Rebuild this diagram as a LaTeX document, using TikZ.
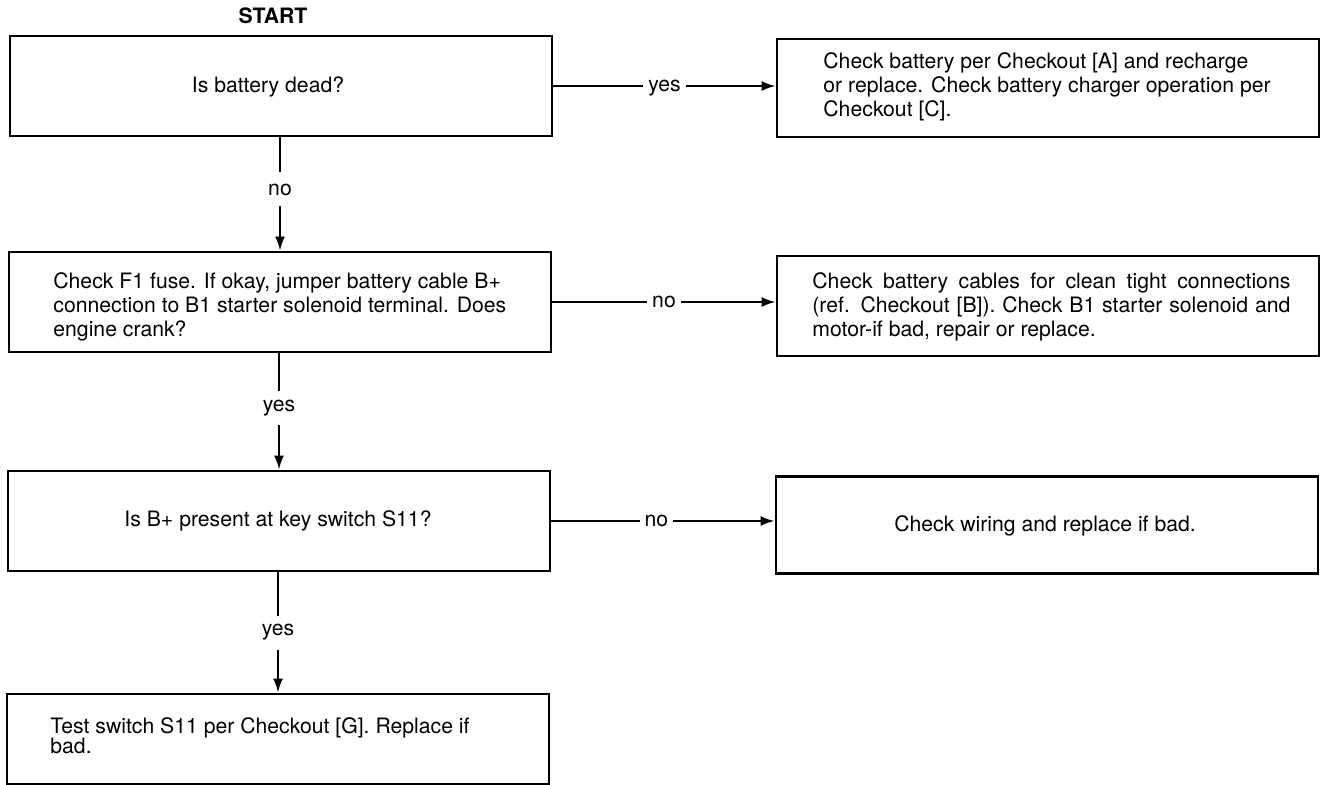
\documentclass[tikz,border=0pt]{standalone}
\usepackage{fontspec}
\setmainfont{TeX Gyre Heros}
\usetikzlibrary{arrows.meta}
\tikzstyle{box}=[rectangle,draw=black,line width=1.4pt,inner sep=0pt,minimum width=271pt,minimum height=50pt]
\tikzstyle{txt}=[align=left,inner sep=0pt]
\tikzstyle{arr}=[-{Latex[length=7pt,width=5pt]},line width=1.1pt]
\tikzstyle{vlab}=[fill=white,inner xsep=2pt,inner ysep=0pt,minimum height=17pt]
\tikzstyle{hlab}=[fill=white,inner xsep=2.5pt,inner ysep=1pt,text height=1ex,text depth=0pt]
\newcommand{\jline}[1]{\makebox[239pt][s]{#1}}

\begin{document}
\begin{tikzpicture}[x=0.5pt,y=-0.5pt,font=\fontsize{10.6}{12}\selectfont]
			\useasboundingbox (0,0) rectangle (1320,785);
			\node (start) at (273,16) {\bfseries START};
			% boxes: left column asks, right column acts
			\foreach \n/\x/\y/\h in {b1/281/86/50,b3/280/302/50,b5/279/521/50,b7/278/739/45,b2/1048/88/49,b4/1048/306/50,b6/1047/525/48.5}
				\node (\n) at (\x,\y) [box,minimum height=\h pt] {};
			
			\node (q1) at (268,87) [txt] {Is battery dead?};
			\node (q3) at (53,307) [txt,anchor=west] {Check F1 fuse. If okay, jumper battery cable B+\\connection to B1 starter solenoid terminal. Does\\engine crank?};
			\node (q5) at (278,521) [txt] {Is B+ present at key switch S11?};
			\node (q7) at (50,736) [txt,anchor=west] {Test switch S11 per Checkout [G]. Replace if\\[-2pt]bad.};
			\node (a2) at (823,87) [txt,anchor=west] {Check battery per Checkout [A] and recharge\\or replace. Check battery charger operation per\\Checkout [C].};
			\node (a4) at (812,307) [txt,anchor=west] {\jline{Check battery cables for clean tight connections}\\\jline{(ref. Checkout [B]). Check B1 starter solenoid and}\\motor-if bad, repair or replace.};
			\node (a6) at (1045,526) [txt] {Check wiring and replace if bad.};
			
			\foreach \a/\b/\l/\p in {b1/b3/no/.46,b3/b5/yes/.47,b5/b7/yes/.5}
			\draw[arr] (\b.north |- \a.south) -- node[vlab,pos=\p] {\l} (\b.north);
			
			\foreach \a/\b/\l/\p in {b1/b2/yes/.5,b3/b4/no/.5,b5/b6/no/.47}
			\draw[arr] (\a.east) -- node[hlab,pos=\p] {\l} (\a.east -| \b.west);
		\end{tikzpicture}
\end{document}
